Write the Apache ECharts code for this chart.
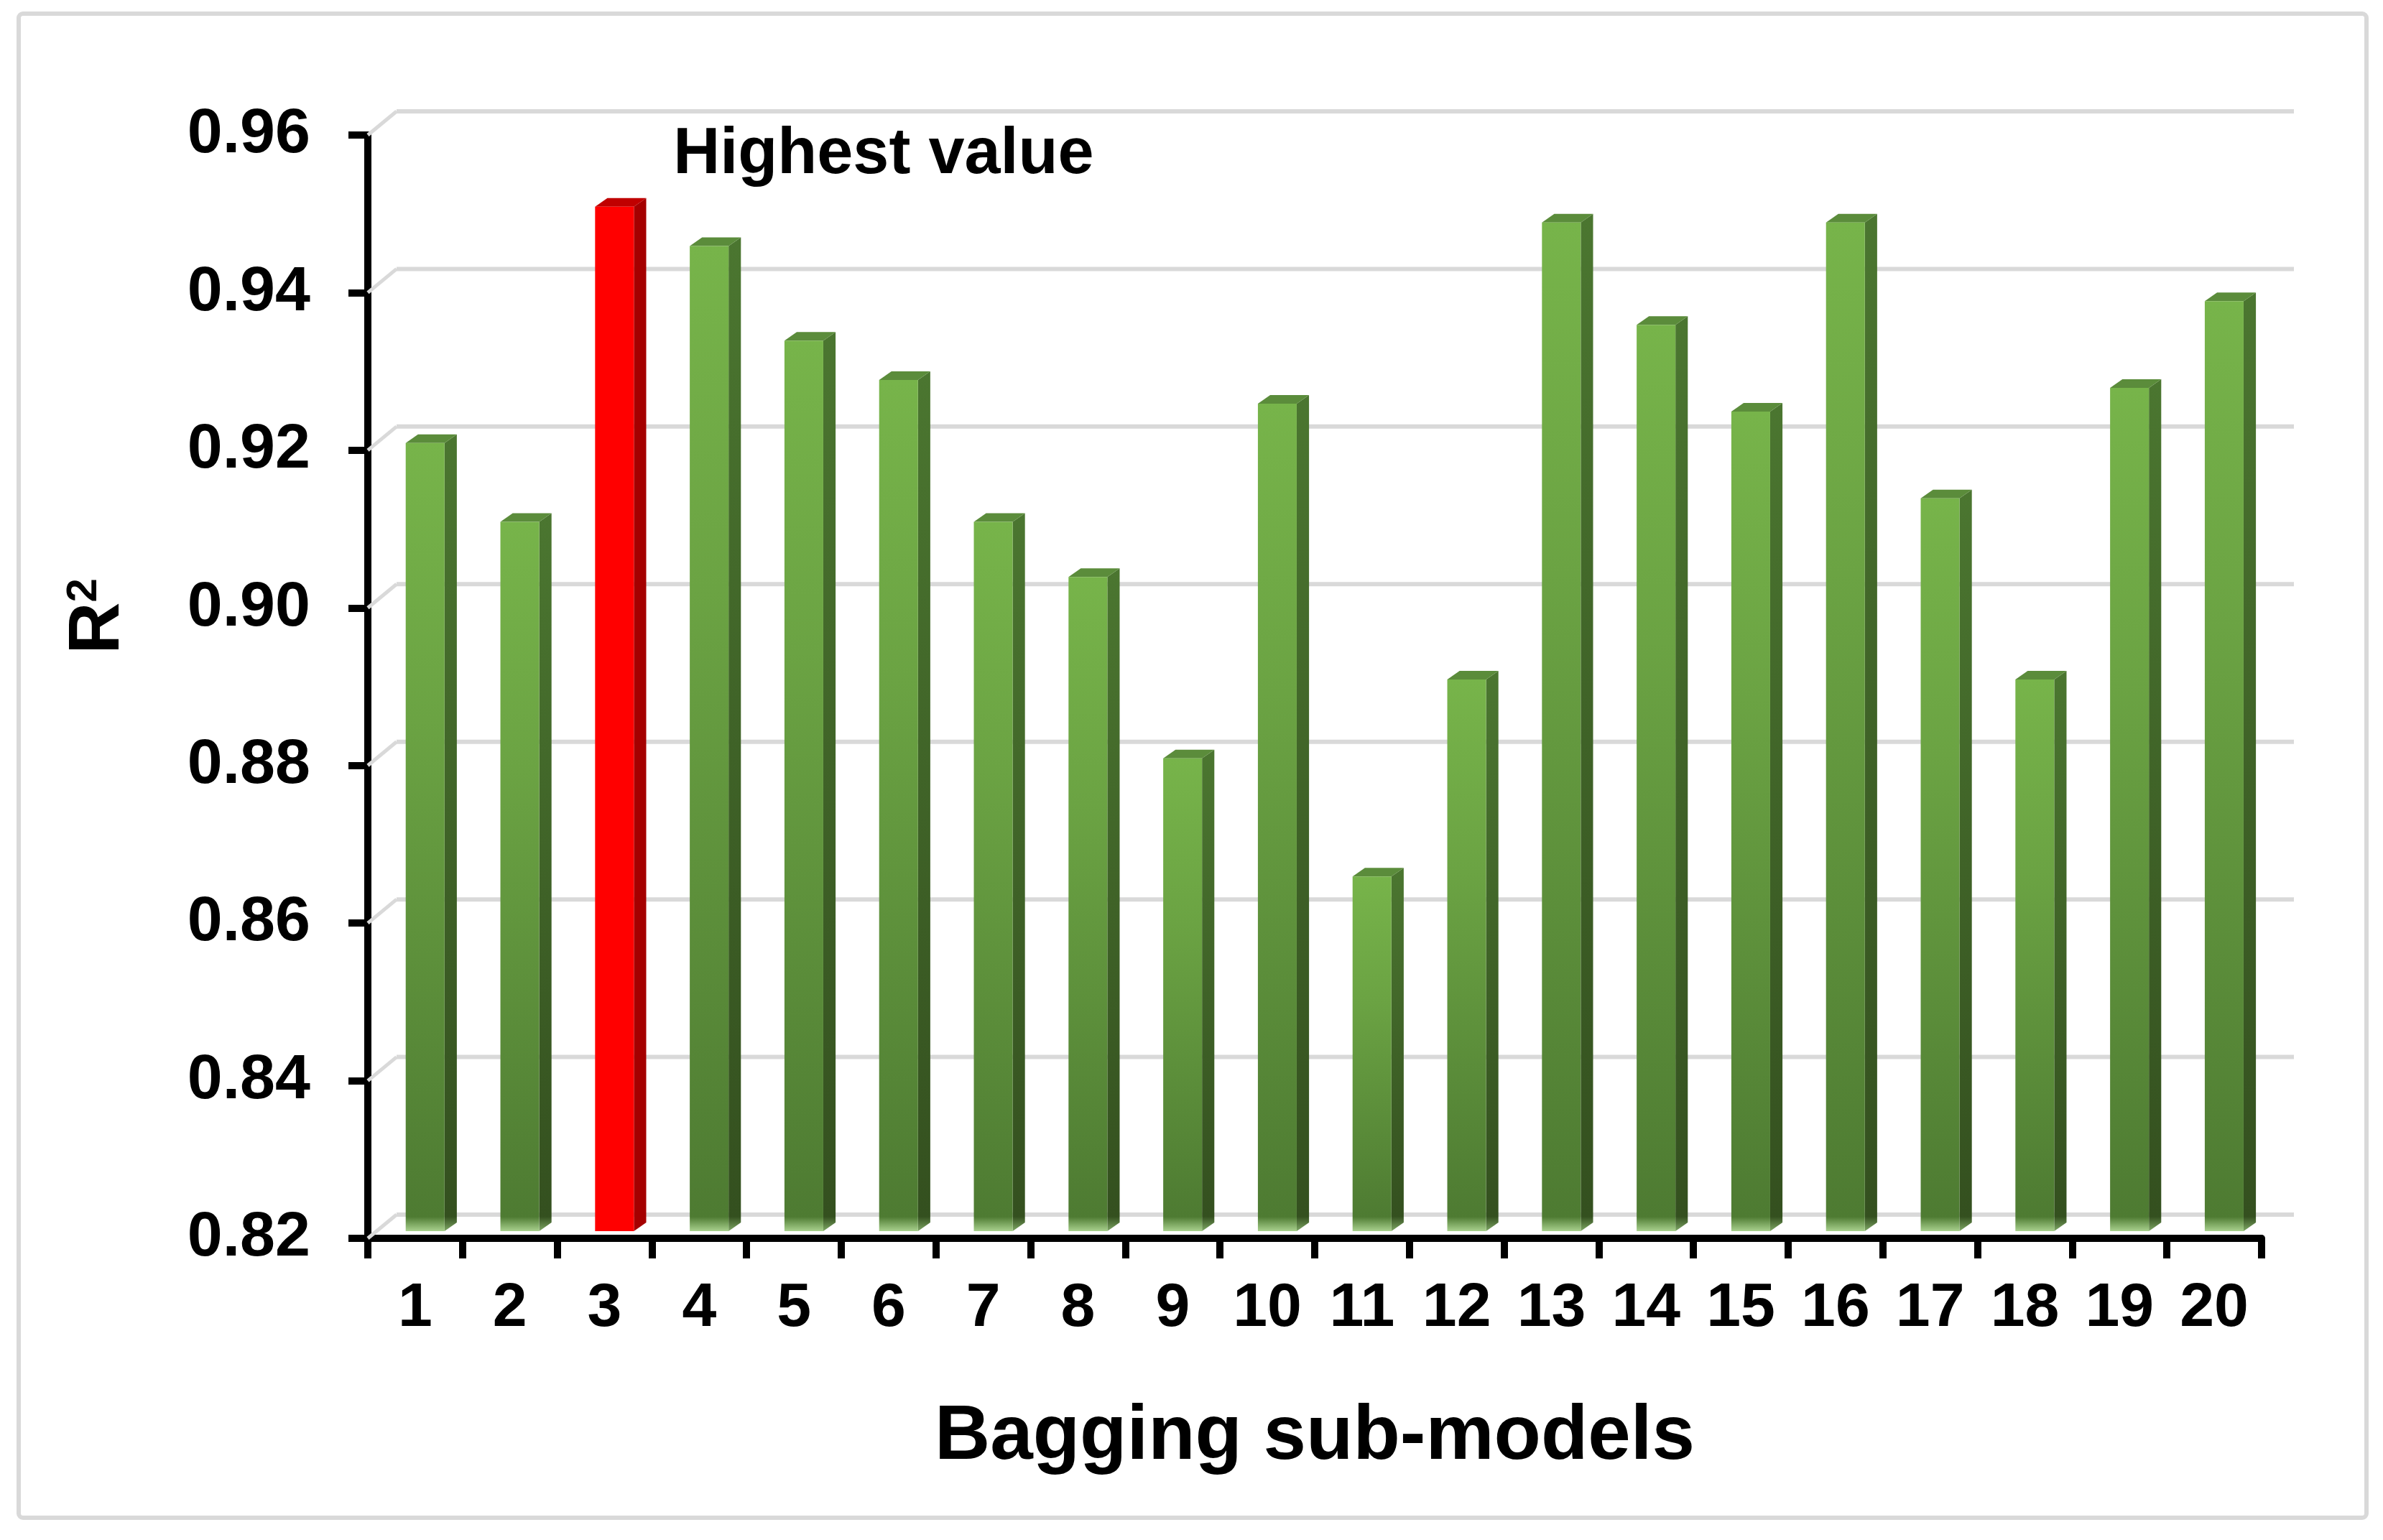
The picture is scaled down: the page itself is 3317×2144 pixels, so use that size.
<!DOCTYPE html>
<html><head><meta charset="utf-8">
<script src="https://cdn.jsdelivr.net/npm/echarts@6/dist/echarts.min.js"></script>
<style>html,body{margin:0;padding:0;background:#fff}#c{width:3317px;height:2144px}</style>
</head><body><div id="c"></div>
<script>
const categories = ['1','2','3','4','5','6','7','8','9','10','11','12','13','14','15','16','17','18','19','20'];
const r2Values = [0.920,0.910,0.950,0.945,0.933,0.928,0.910,0.903,0.880,0.925,0.865,0.890,0.948,0.935,0.924,0.948,0.913,0.890,0.927,0.938];
const yTicks = [0.82,0.84,0.86,0.88,0.90,0.92,0.94,0.96];
const highlightLabel = 'Highest value';
const xTitle = 'Bagging sub-models';
const yTitleMain = 'R';
const yTitleSup = '2';

const FAM = '"Liberation Sans", Arial, sans-serif';
const chart = echarts.init(document.getElementById('c'), null, {renderer:'canvas'});
const maxIdx = r2Values.indexOf(Math.max.apply(null, r2Values));
const yMin = yTicks[0], yMax = yTicks[yTicks.length-1];
const BACK_DX = 40, BACK_DY = 33, BACK_EXT = 45, BAR_LIFT = 10;

function gridItem(params, api){
  const cs = params.coordSys;
  const y = api.coord([0, api.value(1)])[1];
  const x0 = cs.x, x1 = cs.x + cs.width;
  return {type:'group', children:[
    {type:'line', shape:{x1:x0, y1:y, x2:x0+BACK_DX, y2:y-BACK_DY}, style:{stroke:'#d9d9d9', lineWidth:5}},
    {type:'line', shape:{x1:x0+BACK_DX, y1:y-BACK_DY, x2:x1+BACK_EXT, y2:y-BACK_DY}, style:{stroke:'#d9d9d9', lineWidth:6}}
  ]};
}

function barItem(params, api){
  const i = api.value(0), v = api.value(1);
  const top = api.coord([i, v]);
  const base = api.coord([i, yMin]);
  const bw = api.size([1, 0])[0];
  const cx = top[0];
  const fl = cx - 0.10*bw, fw = 0.41*bw, fr = fl + fw;
  const dx = 0.13*bw, dy = 12;
  const yt = top[1] - BAR_LIFT, yb = base[1] - BAR_LIFT;
  const h = yb - yt;
  const isMax = params.dataIndex === maxIdx;
  const fade = Math.min(0.4, 20/h);
  let frontFill, sideFill, topFill;
  if (isMax) {
    frontFill = '#ff0000'; sideFill = '#a50000'; topFill = '#c00000';
  } else {
    frontFill = new echarts.graphic.LinearGradient(0,0,0,1,[
      {offset:0, color:'#77b44a'},{offset:0.35, color:'#6ba343'},
      {offset:1-fade, color:'#4e7b32'},{offset:1, color:'#a9d18e'}]);
    sideFill = new echarts.graphic.LinearGradient(0,0,0,1,[
      {offset:0, color:'#4b7630'},{offset:1-fade, color:'#34501f'},{offset:1, color:'#7fa866'}]);
    topFill = '#5b8c3b';
  }
  const children = [
    {type:'polygon', shape:{points:[[fr,yt],[fr+dx,yt-dy],[fr+dx,yb-dy],[fr,yb]]}, style:{fill:sideFill}},
    {type:'polygon', shape:{points:[[fl,yt],[fl+dx,yt-dy],[fr+dx,yt-dy],[fr,yt]]}, style:{fill:topFill}},
    {type:'rect', shape:{x:fl, y:yt, width:fw, height:h}, style:{fill:frontFill}}
  ];
  if (isMax) {
    children.push({type:'text', x:fr+55, y:yt-72, style:{text:highlightLabel, font:'bold 90px '+FAM, fill:'#000', align:'left', verticalAlign:'middle'}});
  }
  return {type:'group', children:children};
}

chart.setOption({
  backgroundColor:'#ffffff',
  animation:false,
  grid:{left:512, right:169, top:188, bottom:420, containLabel:false},
  xAxis:{type:'category', data:categories,
    axisLine:{show:true, lineStyle:{color:'#000', width:10}},
    axisTick:{show:true, length:28, alignWithLabel:false, lineStyle:{color:'#000', width:10}},
    axisLabel:{interval:0, fontSize:86, fontWeight:'bold', fontFamily:FAM, color:'#000', margin:55},
    splitLine:{show:false},
    name:xTitle, nameLocation:'middle', nameGap:224,
    nameTextStyle:{fontSize:107, fontWeight:'bold', fontFamily:FAM, color:'#000'}},
  yAxis:{type:'value', min:yMin, max:yMax, interval:0.02,
    axisLine:{show:true, lineStyle:{color:'#000', width:10}},
    axisTick:{show:true, inside:false, length:27, lineStyle:{color:'#000', width:10}},
    axisLabel:{formatter:function(v){return v.toFixed(2);}, fontSize:88, fontWeight:'bold', fontFamily:FAM, color:'#000', margin:80},
    splitLine:{show:false}},
  graphic:[
    {type:'rect', z:-10, shape:{x:26, y:19, width:3268, height:2094, r:6}, style:{fill:'none', stroke:'#d9d9d9', lineWidth:6}},
    {type:'text', x:137, y:858, rotation:Math.PI/2, style:{
      text:'{a|'+yTitleMain+'}{b|'+yTitleSup+'}', align:'center', verticalAlign:'middle',
      rich:{a:{fontSize:100, fontWeight:'bold', fontFamily:FAM, color:'#000', lineHeight:100},
            b:{fontSize:60, fontWeight:'bold', fontFamily:FAM, color:'#000', lineHeight:60, verticalAlign:'top'}}}}
  ],
  series:[
    {type:'custom', name:'grid', clip:false, z:1, silent:true, renderItem:gridItem,
     encode:{x:0, y:1}, data:yTicks.map(function(t){return [0, t];})},
    {type:'custom', name:'R2', clip:false, z:2, renderItem:barItem,
     encode:{x:0, y:1}, data:r2Values.map(function(v,i){return [i, v];})}
  ]
});
</script></body></html>
